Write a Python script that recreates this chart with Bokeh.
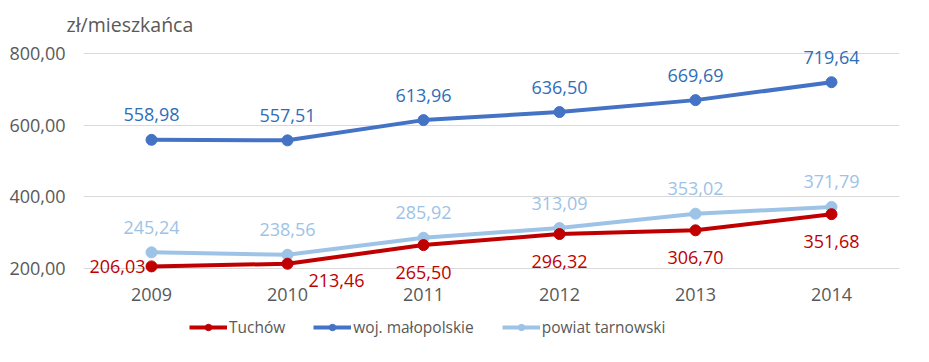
from bokeh.plotting import figure
from bokeh.layouts import column
from bokeh.models import (ColumnDataSource, LabelSet, Legend, LegendItem, Range1d,
                          CustomJSTickFormatter, FixedTicker)
from bokeh.core.properties import value
from bokeh.embed import file_html
from bokeh.resources import INLINE

# ---- data ----
years = ["2009", "2010", "2011", "2012", "2013", "2014"]
tuchow = [206.03, 213.46, 265.50, 296.32, 306.70, 351.68]
malopolskie = [558.98, 557.51, 613.96, 636.50, 669.69, 719.64]
tarnowski = [245.24, 238.56, 285.92, 313.09, 353.02, 371.79]
series_names = ["Tuchów", "woj. małopolskie", "powiat tarnowski"]
y_ticks = [200, 400, 600, 800]
unit_label = "zł/mieszkańca"

FONT = "Open Sans"
GRAY = "#595959"
RED, BLUE, LBLUE = "#C00000", "#4472C4", "#9DC3E6"
series = [(series_names[1], malopolskie, BLUE),
          (series_names[2], tarnowski, LBLUE),
          (series_names[0], tuchow, RED)]

def fmt(v):
    return f"{v:.2f}".replace(".", ",")

# ---------------- main chart ----------------
p = figure(frame_width=816, frame_height=260, x_range=years, y_range=Range1d(97, 822),
           output_backend="svg", toolbar_location=None, min_border_right=5)
p.outline_line_color = None
p.background_fill_color = "white"
p.border_fill_color = "white"

ticker = FixedTicker(ticks=y_ticks)
p.yaxis.ticker = ticker
p.ygrid.ticker = ticker
p.yaxis.formatter = CustomJSTickFormatter(code="return tick.toFixed(2).replace('.', ',');")
p.xgrid.grid_line_color = None
p.ygrid.grid_line_color = "#D9D9D9"
p.ygrid.grid_line_width = 1

for ax in (p.xaxis, p.yaxis):
    ax.axis_line_color = None
    ax.major_tick_line_color = None
    ax.minor_tick_line_color = None
    ax.major_tick_out = 0
    ax.major_tick_in = 0
    ax.major_label_text_font = FONT
    ax.major_label_text_font_size = "18px"
    ax.major_label_text_color = GRAY
p.yaxis.major_label_standoff = 18
p.xaxis.major_label_standoff = -18
# invisible spacer label to widen the left panel a little
p.yaxis.axis_label = "\u00a0"
p.yaxis.axis_label_text_font_size = "1px"
p.yaxis.axis_label_standoff = 2

p.title.text = unit_label
p.title.align = "left"
p.title.offset = -21
p.title.padding = 4
p.title.standoff = 8
p.title.text_font = FONT
p.title.text_font_size = "19.5px"
p.title.text_font_style = "normal"
p.title.text_color = GRAY

sources = {}
for name, vals, col in series:
    src = ColumnDataSource(dict(x=years, y=vals, lab=[fmt(v) for v in vals]))
    p.line("x", "y", source=src, line_color=col, line_width=4)
    p.scatter("x", "y", source=src, size=11, fill_color=col, line_color=col)
    sources[name] = src

label_style = dict(text_font=value(FONT), text_font_size="18px", text_baseline="middle")

# blue labels above the points
p.add_layout(LabelSet(x="x", y="y", text="lab", source=sources[series_names[1]],
                      text_align="center", y_offset=25, text_color="#2F6DB8", **label_style))
p.add_layout(LabelSet(x="x", y="y", text="lab", source=sources[series_names[2]],
                      text_align="center", y_offset=25, text_color=LBLUE, **label_style))

# red labels
t_lab = [fmt(v) for v in tuchow]
src_a = ColumnDataSource(dict(x=years[2:], y=tuchow[2:], lab=t_lab[2:]))
src_b = ColumnDataSource(dict(x=years[:1], y=tuchow[:1], lab=t_lab[:1]))
src_c = ColumnDataSource(dict(x=years[1:2], y=tuchow[1:2], lab=t_lab[1:2]))
p.add_layout(LabelSet(x="x", y="y", text="lab", source=src_a, text_align="center",
                      y_offset=-27, text_color=RED, **label_style))
p.add_layout(LabelSet(x="x", y="y", text="lab", source=src_b, text_align="right",
                      x_offset=-6, text_color=RED, **label_style))
p.add_layout(LabelSet(x="x", y="y", text="lab", source=src_c, text_align="center",
                      x_offset=49, y_offset=-17, text_color=RED, **label_style))

# ---------------- legend strip ----------------
lg = figure(frame_width=816, frame_height=32, x_range=years, y_range=Range1d(0, 1),
            output_backend="svg", toolbar_location=None,
            x_axis_location=None, y_axis_location=None, min_border=0)
lg.outline_line_color = None
lg.grid.grid_line_color = None
lg.border_fill_color = "white"
lg.background_fill_color = "white"
items = {}
for name, vals, col in series:
    src = ColumnDataSource(dict(x=years, y=vals))
    lr = lg.line("x", "y", source=src, line_color=col, line_width=4)
    sr = lg.scatter("x", "y", source=src, size=11, fill_color=col, line_color=col)
    items[name] = [lr, sr]

legend = Legend(items=[LegendItem(label=n, renderers=items[n]) for n in series_names],
                orientation="horizontal", location=(189, 4),
                glyph_width=38, glyph_height=16, label_height=16,
                label_text_font=FONT, label_text_font_size="15.5px", label_text_color=GRAY,
                spacing=28, label_standoff=2, border_line_color=None,
                padding=0, margin=0, background_fill_alpha=0)
lg.add_layout(legend)

open("out.html", "w").write(file_html(column(p, lg, spacing=0), INLINE))
